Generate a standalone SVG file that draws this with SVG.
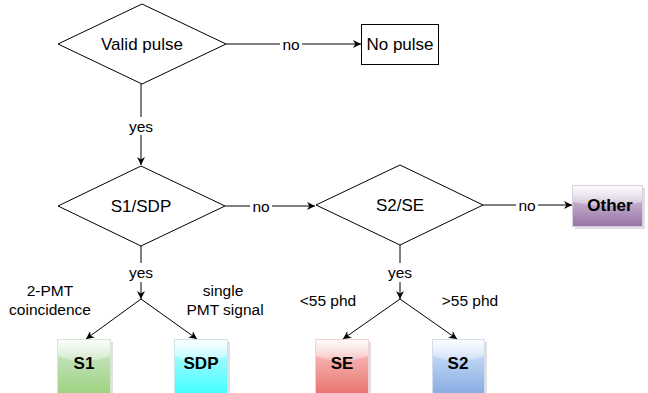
<svg xmlns="http://www.w3.org/2000/svg" width="648" height="393" viewBox="0 0 648 393">
<style>
.shape{fill:#ffffff;stroke:#000000;stroke-width:1}
.edge{fill:none;stroke:#000000;stroke-width:1}
.t{font-family:"Liberation Sans",Arial,Helvetica,sans-serif;font-size:17px;fill:#000000;text-anchor:middle;dominant-baseline:central}
.l{font-family:"Liberation Sans",Arial,Helvetica,sans-serif;font-size:15.5px;fill:#000000;text-anchor:middle;dominant-baseline:central}
.b{font-family:"Liberation Sans",Arial,Helvetica,sans-serif;font-size:17px;font-weight:bold;fill:#000000;text-anchor:middle;dominant-baseline:central}
.lbg{fill:#ffffff}
.glass{fill:url(#gl)}
.sh{fill:#000000;opacity:0.12}
</style>
<defs>
<marker id="ar" viewBox="0 0 10 10" refX="10" refY="5" markerWidth="8" markerHeight="8" markerUnits="userSpaceOnUse" orient="auto">
<path d="M0,0 L10,5 L0,10 L3,5 Z" fill="#000000"/>
</marker>
<linearGradient id="gl" x1="0" y1="0" x2="0" y2="1">
<stop offset="0" stop-color="#ffffff" stop-opacity="0.9"/>
<stop offset="1" stop-color="#ffffff" stop-opacity="0.25"/>
</linearGradient>
<linearGradient id="gGreen" x1="0" y1="0" x2="0" y2="1">
<stop offset="0" stop-color="#d5e8d4"/>
<stop offset="1" stop-color="#97d077"/>
</linearGradient>
<linearGradient id="gCyan" x1="0" y1="0" x2="0" y2="1">
<stop offset="0" stop-color="#ccf8ff"/>
<stop offset="1" stop-color="#33ffff"/>
</linearGradient>
<linearGradient id="gRed" x1="0" y1="0" x2="0" y2="1">
<stop offset="0" stop-color="#f8cecc"/>
<stop offset="1" stop-color="#ea6b66"/>
</linearGradient>
<linearGradient id="gBlue" x1="0" y1="0" x2="0" y2="1">
<stop offset="0" stop-color="#dae8fc"/>
<stop offset="1" stop-color="#7ea6e0"/>
</linearGradient>
<linearGradient id="gPurple" x1="0" y1="0" x2="0" y2="1">
<stop offset="0" stop-color="#e1d5e7"/>
<stop offset="1" stop-color="#9673a6"/>
</linearGradient>
</defs>
<rect width="648" height="393" fill="#ffffff"/>

<g id="connectors">
<path class="edge" d="M226,44 H361" marker-end="url(#ar)"/>
<rect class="lbg" x="280" y="35" width="22" height="18"/>
<text class="l" x="291" y="44">no</text>

<path class="edge" d="M141,84 V165" marker-end="url(#ar)"/>
<rect class="lbg" x="126" y="117" width="30" height="18"/>
<text class="l" x="141" y="126">yes</text>

<path class="edge" d="M225,206 H315" marker-end="url(#ar)"/>
<rect class="lbg" x="250" y="197" width="22" height="18"/>
<text class="l" x="261" y="206">no</text>

<path class="edge" d="M483,205 H572" marker-end="url(#ar)"/>
<rect class="lbg" x="516" y="196" width="22" height="18"/>
<text class="l" x="527" y="205">no</text>

<path class="edge" d="M141,246 V299" marker-end="url(#ar)"/>
<rect class="lbg" x="126" y="263" width="30" height="19"/>
<text class="l" x="141" y="272">yes</text>
<path class="edge" d="M141,299 L86,339" marker-end="url(#ar)"/>
<path class="edge" d="M141,299 L197,339" marker-end="url(#ar)"/>

<path class="edge" d="M400,245 V299" marker-end="url(#ar)"/>
<rect class="lbg" x="385" y="263" width="30" height="19"/>
<text class="l" x="400" y="272">yes</text>
<path class="edge" d="M400,299 L343,339" marker-end="url(#ar)"/>
<path class="edge" d="M400,299 L457,339" marker-end="url(#ar)"/>

<text class="l" x="50" y="290">2-PMT</text>
<text class="l" x="50" y="309">coincidence</text>
<text class="l" x="223" y="290">single</text>
<text class="l" x="225" y="309">PMT signal</text>
<text class="l" x="328" y="300">&lt;55 phd</text>
<text class="l" x="470" y="300">&gt;55 phd</text>
</g>

<g id="valid-pulse">
<path class="shape" d="M142,4 L226,44 L142,84 L58,44 Z"/>
<text class="t" x="142" y="44">Valid pulse</text>
</g>

<g id="no-pulse">
<rect class="shape" x="361.5" y="24.5" width="77" height="40"/>
<text class="t" x="400" y="44">No pulse</text>
</g>

<g id="s1-sdp">
<path class="shape" d="M141,166 L225,206 L141,246 L58,206 Z"/>
<text class="t" x="141" y="206">S1/SDP</text>
</g>

<g id="s2-se">
<path class="shape" d="M400,165 L483,205 L400,245 L316,205 Z"/>
<text class="t" x="400" y="205">S2/SE</text>
</g>

<g id="other">
<rect class="sh" x="575" y="188" width="70" height="41"/>
<rect x="572.5" y="185.5" width="70" height="41" fill="url(#gPurple)" stroke="#d8cfdc" stroke-width="1"/>
<path class="glass" d="M573,186 H642 V202 Q607.5,210 573,202 Z"/>
<text class="b" x="610" y="205">Other</text>
</g>

<g id="s1">
<rect class="sh" x="60" y="342" width="53" height="60"/>
<rect x="57.5" y="339.5" width="53" height="60" fill="url(#gGreen)" stroke="#d6e6cf" stroke-width="1"/>
<path class="glass" d="M58,340 H110 V356 Q84,366 58,356 Z"/>
<text class="b" x="84" y="363">S1</text>
</g>

<g id="sdp">
<rect class="sh" x="177" y="342" width="53" height="60"/>
<rect x="174.5" y="339.5" width="53" height="60" fill="url(#gCyan)" stroke="#cfe3ea" stroke-width="1"/>
<path class="glass" d="M175,340 H227 V356 Q201,366 175,356 Z"/>
<text class="b" x="201" y="363">SDP</text>
</g>

<g id="se">
<rect class="sh" x="318" y="342" width="53" height="60"/>
<rect x="315.5" y="339.5" width="53" height="60" fill="url(#gRed)" stroke="#efd2d2" stroke-width="1"/>
<path class="glass" d="M316,340 H368 V356 Q342,366 316,356 Z"/>
<text class="b" x="342" y="363">SE</text>
</g>

<g id="s2">
<rect class="sh" x="435" y="342" width="52" height="60"/>
<rect x="432.5" y="339.5" width="52" height="60" fill="url(#gBlue)" stroke="#d3dcea" stroke-width="1"/>
<path class="glass" d="M433,340 H484 V356 Q458.5,366 433,356 Z"/>
<text class="b" x="458" y="363">S2</text>
</g>
</svg>
